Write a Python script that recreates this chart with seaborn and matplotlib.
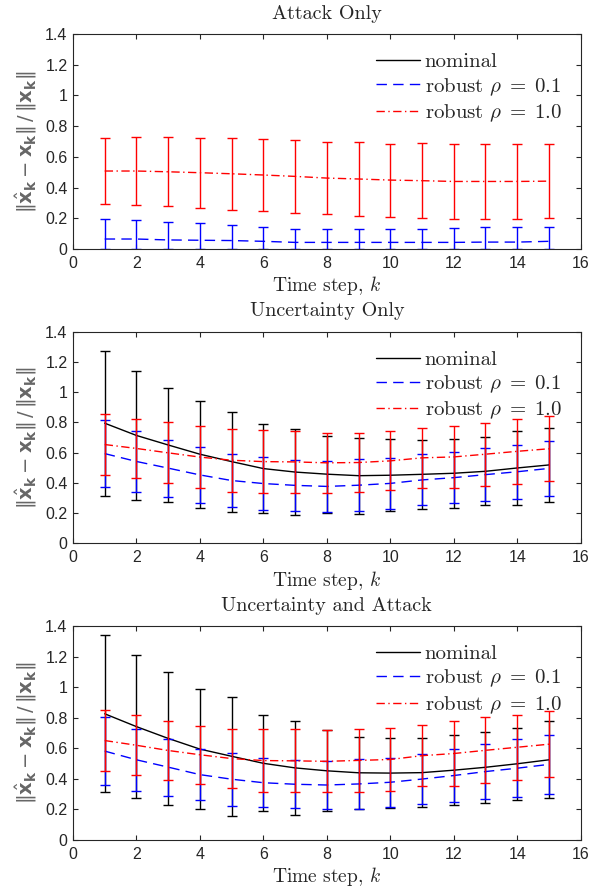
import numpy as np
import matplotlib
matplotlib.use('Agg')
import matplotlib.pyplot as plt
import seaborn as sns
import pandas as pd

steps = list(range(1, 16))

# Attack Only (nominal is off scale / not shown)
att_nom_mean = [np.nan] * 15
att_nom_err = [np.nan] * 15
att_r01_mean = [0.065, 0.065, 0.059, 0.057, 0.055, 0.05, 0.043, 0.043, 0.043, 0.043, 0.043, 0.043, 0.045, 0.045, 0.05]
att_r01_up = [0.13, 0.124, 0.119, 0.11, 0.10, 0.091, 0.087, 0.087, 0.087, 0.087, 0.087, 0.096, 0.096, 0.10, 0.095]
att_r10_mean = [0.508, 0.508, 0.503, 0.497, 0.49, 0.482, 0.473, 0.462, 0.456, 0.449, 0.445, 0.44, 0.44, 0.44, 0.442]
att_r10_err = [0.218, 0.222, 0.225, 0.228, 0.233, 0.235, 0.237, 0.237, 0.238, 0.238, 0.243, 0.243, 0.243, 0.243, 0.243]

# Uncertainty Only
unc_nom_mean = [0.795, 0.714, 0.651, 0.59, 0.541, 0.495, 0.472, 0.458, 0.448, 0.451, 0.457, 0.464, 0.477, 0.499, 0.519]
unc_nom_err = [0.479, 0.425, 0.378, 0.353, 0.33, 0.296, 0.282, 0.254, 0.25, 0.237, 0.229, 0.229, 0.225, 0.244, 0.242]
unc_r01_mean = [0.594, 0.542, 0.498, 0.453, 0.416, 0.396, 0.384, 0.377, 0.385, 0.397, 0.42, 0.435, 0.455, 0.474, 0.496]
unc_r01_err = [0.22, 0.2, 0.188, 0.184, 0.177, 0.178, 0.169, 0.168, 0.17, 0.168, 0.169, 0.167, 0.174, 0.177, 0.18]
unc_r10_mean = [0.654, 0.628, 0.599, 0.571, 0.55, 0.541, 0.539, 0.533, 0.535, 0.546, 0.566, 0.572, 0.59, 0.609, 0.626]
unc_r10_err = [0.201, 0.194, 0.201, 0.203, 0.207, 0.206, 0.204, 0.199, 0.197, 0.195, 0.197, 0.204, 0.208, 0.213, 0.214]

# Uncertainty and Attack
ua_nom_mean = [0.826, 0.742, 0.665, 0.595, 0.548, 0.502, 0.472, 0.453, 0.44, 0.438, 0.441, 0.457, 0.476, 0.499, 0.525]
ua_nom_err = [0.513, 0.47, 0.436, 0.39, 0.391, 0.315, 0.307, 0.264, 0.236, 0.229, 0.226, 0.23, 0.233, 0.234, 0.251]
ua_r01_mean = [0.582, 0.525, 0.477, 0.428, 0.398, 0.375, 0.365, 0.36, 0.367, 0.378, 0.399, 0.422, 0.448, 0.47, 0.495]
ua_r01_err = [0.222, 0.201, 0.186, 0.169, 0.172, 0.16, 0.158, 0.16, 0.163, 0.161, 0.162, 0.174, 0.182, 0.19, 0.194]
ua_r10_mean = [0.651, 0.62, 0.586, 0.558, 0.533, 0.52, 0.518, 0.515, 0.521, 0.527, 0.552, 0.566, 0.587, 0.607, 0.627]
ua_r10_err = [0.201, 0.196, 0.193, 0.191, 0.195, 0.208, 0.206, 0.202, 0.207, 0.203, 0.198, 0.212, 0.215, 0.214, 0.214]

titles = ['Attack Only', 'Uncertainty Only', 'Uncertainty and Attack']
labels = ['nominal', r'robust $\rho\;=\;0.1$', r'robust $\rho\;=\;1.0$']


def draw(ax, series, title):
    colors = ['k', 'b', 'r']
    dashes = [(None, None), (7.5, 4.5), (6, 2.5, 1, 2.5)]
    for (mean, err), col, lab, ds in zip(series, colors, labels, dashes):
        df = pd.DataFrame({'k': steps, 'v': mean})
        sns.lineplot(data=df, x='k', y='v', ax=ax, color=col, lw=1.0, label=lab)
        ln = ax.lines[-1]
        if ds[0] is not None:
            ln.set_dashes(ds)
        ax.errorbar(steps, mean, yerr=err, fmt='none', ecolor=col, elinewidth=1.0,
                    capsize=3.8, capthick=1.0)
    ax.set_xlim(0, 16)
    ax.set_ylim(0, 1.4)
    ax.set_xticks(np.arange(0, 17, 2))
    ax.set_yticks(np.arange(0, 1.41, 0.2))
    ax.yaxis.set_major_formatter(matplotlib.ticker.FormatStrFormatter('%g'))
    ax.tick_params(direction='in', top=True, right=True, length=3.6, width=0.8,
                   labelsize=11.5, colors='0.15', pad=4)
    ax.tick_params(axis='x', pad=5)
    for t in ax.get_xticklabels() + ax.get_yticklabels():
        t.set_family('Liberation Sans')
    for sp in ax.spines.values():
        sp.set_color('0.15')
        sp.set_linewidth(0.8)
    ax.set_title(title, fontsize=14.5, family='cmr10', pad=11)
    ax.set_xlabel('Time step, $k$', fontsize=14, family='cmr10', labelpad=2.5)
    ax.set_ylabel(r'$\|\hat{\mathbf{x}}_\mathbf{k} - \mathbf{x}_\mathbf{k}\| \,/\, \|\mathbf{x}_\mathbf{k}\|$',
                  fontsize=14, color='0.4', math_fontfamily='dejavusans', labelpad=4)
    ax.legend(loc='upper right', frameon=False, handlelength=2.1,
              handletextpad=0.25, labelspacing=0.22, borderaxespad=0.5,
              prop={'family': 'cmr10', 'size': 15})


sns.set_style('ticks')
plt.rcParams['mathtext.fontset'] = 'cm'
plt.rcParams['axes.unicode_minus'] = False

fig = plt.figure(figsize=(6.03, 8.88), dpi=100)
positions = [[0.121, 0.7196, 0.842, 0.242], [0.121, 0.388, 0.842, 0.2385], [0.121, 0.054, 0.842, 0.241]]
data_sets = [
    [(att_nom_mean, att_nom_err), (att_r01_mean, [att_r01_mean, att_r01_up]), (att_r10_mean, att_r10_err)],
    [(unc_nom_mean, unc_nom_err), (unc_r01_mean, unc_r01_err), (unc_r10_mean, unc_r10_err)],
    [(ua_nom_mean, ua_nom_err), (ua_r01_mean, ua_r01_err), (ua_r10_mean, ua_r10_err)],
]
for pos, series, title in zip(positions, data_sets, titles):
    ax = fig.add_axes(pos)
    draw(ax, series, title)

fig.savefig('out.png', dpi=100)
